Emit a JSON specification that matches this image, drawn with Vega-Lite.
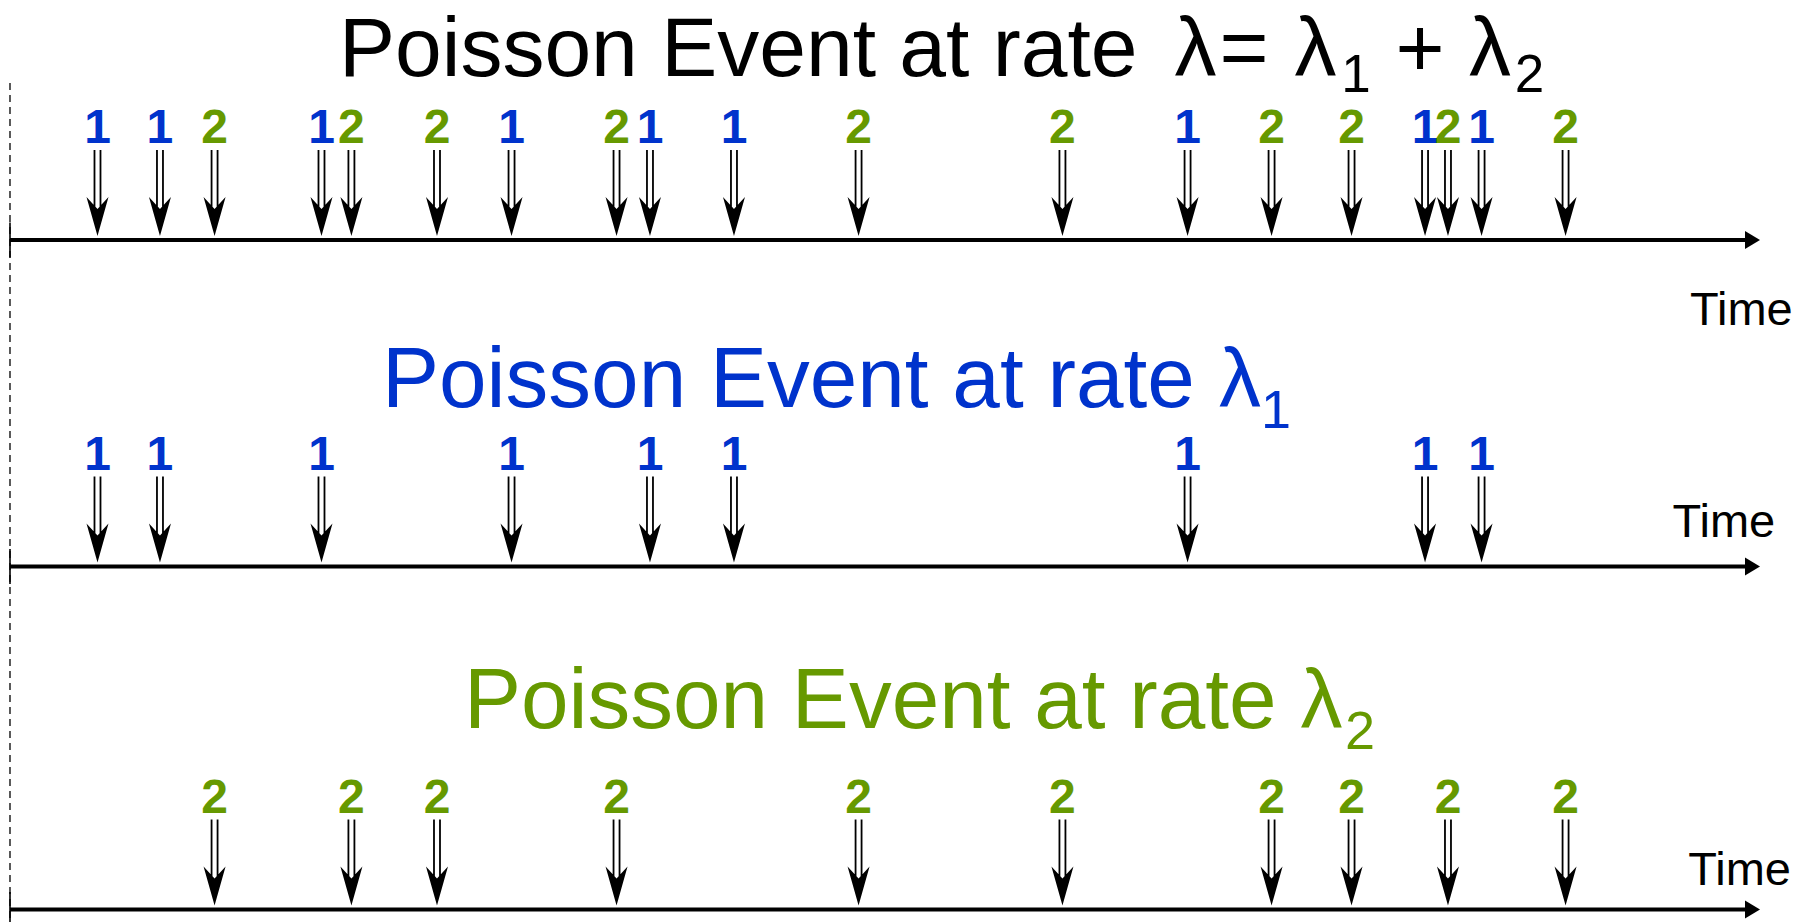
{
  "$schema": "https://vega.github.io/schema/vega-lite/v6.json",
  "width": 1808,
  "height": 922,
  "autosize": {"type": "none"},
  "padding": 0,
  "background": "white",
  "config": {"view": {"stroke": null}, "text": {"font": "Liberation Sans"}},
  "datasets": {
    "events": [
      {"process": 1, "t": 0.5},
      {"process": 1, "t": 0.857},
      {"process": 1, "t": 1.78},
      {"process": 1, "t": 2.866},
      {"process": 1, "t": 3.657},
      {"process": 1, "t": 4.137},
      {"process": 1, "t": 6.729},
      {"process": 1, "t": 8.086},
      {"process": 1, "t": 8.409},
      {"process": 2, "t": 1.169},
      {"process": 2, "t": 1.951},
      {"process": 2, "t": 2.44},
      {"process": 2, "t": 3.466},
      {"process": 2, "t": 4.849},
      {"process": 2, "t": 6.014},
      {"process": 2, "t": 7.209},
      {"process": 2, "t": 7.666},
      {"process": 2, "t": 8.217},
      {"process": 2, "t": 8.889}
    ],
    "timelines": [
      {"timeline": 0, "name": "merged"},
      {"timeline": 1, "name": "process 1"},
      {"timeline": 2, "name": "process 2"}
    ]
  },
  "layer": [
    {
      "data": {"name": "timelines"},
      "transform": [{"filter": "datum.timeline == 0"}],
      "mark": {"type": "rule", "strokeDash": [7, 5], "strokeWidth": 1.3, "color": "black", "yOffset": -157, "y2Offset": 12.5},
      "encoding": {
        "x": {"datum": 0, "type": "quantitative", "scale": {"domain": [-0.0571, 10.2743], "nice": false, "zero": false}, "axis": null},
        "y": {"datum": 0, "type": "quantitative", "scale": {"domain": [0, 1, 2], "range": [240, 566.5, 909.5], "nice": false, "zero": false}, "axis": null},
        "y2": {"datum": 2}
      }
    },
    {
      "data": {"name": "timelines"},
      "mark": {"type": "rule", "strokeWidth": 4, "color": "black"},
      "encoding": {
        "x": {"datum": 0, "type": "quantitative", "axis": null},
        "x2": {"datum": 9.93},
        "y": {"field": "timeline", "type": "quantitative", "axis": null}
      }
    },
    {
      "data": {"name": "timelines"},
      "mark": {"type": "rule", "strokeWidth": 1.6, "color": "black", "yOffset": -17.5, "y2Offset": 17.5},
      "encoding": {
        "x": {"datum": 0, "type": "quantitative", "axis": null},
        "y": {"field": "timeline", "type": "quantitative", "axis": null},
        "y2": {"field": "timeline"}
      }
    },
    {
      "data": {"name": "timelines"},
      "mark": {"type": "point", "shape": "M0,0L-15,-9L-15,9Z", "size": 4, "filled": true, "color": "black", "opacity": 1, "strokeWidth": 0},
      "encoding": {
        "x": {"datum": 10, "type": "quantitative", "axis": null},
        "y": {"field": "timeline", "type": "quantitative", "axis": null}
      }
    },
    {
      "data": {"name": "events"},
      "mark": {"type": "point", "shape": "M0,0L-11,-39L0,-27L11,-39Z M-3.9,-86L-2.1,-86L-2.1,-28L-3.9,-28Z M2.1,-86L3.9,-86L3.9,-28L2.1,-28Z", "size": 4, "filled": true, "color": "black", "opacity": 1, "strokeWidth": 0, "yOffset": -4},
      "encoding": {
        "x": {"field": "t", "type": "quantitative", "axis": null},
        "y": {"datum": 0, "type": "quantitative", "axis": null}
      }
    },
    {
      "data": {"name": "events"},
      "mark": {"type": "point", "shape": "M0,0L-11,-39L0,-27L11,-39Z M-3.9,-86L-2.1,-86L-2.1,-28L-3.9,-28Z M2.1,-86L3.9,-86L3.9,-28L2.1,-28Z", "size": 4, "filled": true, "color": "black", "opacity": 1, "strokeWidth": 0, "yOffset": -4},
      "encoding": {
        "x": {"field": "t", "type": "quantitative", "axis": null},
        "y": {"field": "process", "type": "quantitative", "axis": null}
      }
    },
    {
      "data": {"name": "events"},
      "mark": {"type": "text", "fontSize": 48, "fontWeight": "bold", "align": "center", "baseline": "alphabetic", "dy": -97},
      "encoding": {
        "x": {"field": "t", "type": "quantitative", "axis": null},
        "y": {"datum": 0, "type": "quantitative", "axis": null},
        "text": {"field": "process"},
        "color": {"field": "process", "type": "nominal", "scale": {"domain": [1, 2], "range": ["#0033cc", "#669900"]}, "legend": null}
      }
    },
    {
      "data": {"name": "events"},
      "mark": {"type": "text", "fontSize": 48, "fontWeight": "bold", "align": "center", "baseline": "alphabetic", "dy": -97},
      "encoding": {
        "x": {"field": "t", "type": "quantitative", "axis": null},
        "y": {"field": "process", "type": "quantitative", "axis": null},
        "text": {"field": "process"},
        "color": {"field": "process", "type": "nominal", "legend": null}
      }
    },
    {
      "data": {"name": "timelines"},
      "transform": [{"filter": "datum.timeline == 0"}],
      "mark": {"type": "text", "text": "Time", "fontSize": 47, "align": "left", "baseline": "alphabetic", "color": "black", "dy": 85},
      "encoding": {"x": {"datum": 9.6, "type": "quantitative", "axis": null}, "y": {"field": "timeline", "type": "quantitative", "axis": null}}
    },
    {
      "data": {"name": "timelines"},
      "transform": [{"filter": "datum.timeline == 1"}],
      "mark": {"type": "text", "text": "Time", "fontSize": 47, "align": "left", "baseline": "alphabetic", "color": "black", "dy": -29.5},
      "encoding": {"x": {"datum": 9.5, "type": "quantitative", "axis": null}, "y": {"field": "timeline", "type": "quantitative", "axis": null}}
    },
    {
      "data": {"name": "timelines"},
      "transform": [{"filter": "datum.timeline == 2"}],
      "mark": {"type": "text", "text": "Time", "fontSize": 47, "align": "left", "baseline": "alphabetic", "color": "black", "dy": -24.5},
      "encoding": {"x": {"datum": 9.59, "type": "quantitative", "axis": null}, "y": {"field": "timeline", "type": "quantitative", "axis": null}}
    },
    {
      "data": {"name": "timelines"},
      "transform": [{"filter": "datum.timeline == 0"}],
      "mark": {"type": "text", "text": "Poisson Event at rate", "fontSize": 84, "align": "left", "baseline": "alphabetic", "color": "black", "dy": -164},
      "encoding": {"x": {"datum": 1.88, "type": "quantitative", "axis": null}, "y": {"field": "timeline", "type": "quantitative", "axis": null}}
    },
    {
      "data": {"name": "timelines"},
      "transform": [{"filter": "datum.timeline == 0"}],
      "mark": {"type": "text", "text": "λ", "fontSize": 84, "align": "center", "baseline": "alphabetic", "color": "black", "dy": -164},
      "encoding": {"x": {"datum": 6.774, "type": "quantitative", "axis": null}, "y": {"field": "timeline", "type": "quantitative", "axis": null}}
    },
    {
      "data": {"name": "timelines"},
      "transform": [{"filter": "datum.timeline == 0"}],
      "mark": {"type": "text", "text": "=", "fontSize": 84, "align": "center", "baseline": "alphabetic", "color": "black", "dy": -164},
      "encoding": {"x": {"datum": 7.051, "type": "quantitative", "axis": null}, "y": {"field": "timeline", "type": "quantitative", "axis": null}}
    },
    {
      "data": {"name": "timelines"},
      "transform": [{"filter": "datum.timeline == 0"}],
      "mark": {"type": "text", "text": "λ", "fontSize": 84, "align": "center", "baseline": "alphabetic", "color": "black", "dy": -164},
      "encoding": {"x": {"datum": 7.46, "type": "quantitative", "axis": null}, "y": {"field": "timeline", "type": "quantitative", "axis": null}}
    },
    {
      "data": {"name": "timelines"},
      "transform": [{"filter": "datum.timeline == 0"}],
      "mark": {"type": "text", "text": "1", "fontSize": 53, "align": "center", "baseline": "alphabetic", "color": "black", "dy": -148},
      "encoding": {"x": {"datum": 7.691, "type": "quantitative", "axis": null}, "y": {"field": "timeline", "type": "quantitative", "axis": null}}
    },
    {
      "data": {"name": "timelines"},
      "transform": [{"filter": "datum.timeline == 0"}],
      "mark": {"type": "text", "text": "+", "fontSize": 84, "align": "center", "baseline": "alphabetic", "color": "black", "dy": -164},
      "encoding": {"x": {"datum": 8.057, "type": "quantitative", "axis": null}, "y": {"field": "timeline", "type": "quantitative", "axis": null}}
    },
    {
      "data": {"name": "timelines"},
      "transform": [{"filter": "datum.timeline == 0"}],
      "mark": {"type": "text", "text": "λ", "fontSize": 84, "align": "center", "baseline": "alphabetic", "color": "black", "dy": -164},
      "encoding": {"x": {"datum": 8.457, "type": "quantitative", "axis": null}, "y": {"field": "timeline", "type": "quantitative", "axis": null}}
    },
    {
      "data": {"name": "timelines"},
      "transform": [{"filter": "datum.timeline == 0"}],
      "mark": {"type": "text", "text": "2", "fontSize": 53, "align": "center", "baseline": "alphabetic", "color": "black", "dy": -148},
      "encoding": {"x": {"datum": 8.683, "type": "quantitative", "axis": null}, "y": {"field": "timeline", "type": "quantitative", "axis": null}}
    },
    {
      "data": {"name": "timelines"},
      "transform": [{"filter": "datum.timeline == 1"}],
      "mark": {"type": "text", "text": "Poisson Event at rate", "fontSize": 85.5, "align": "left", "baseline": "alphabetic", "color": "#0033cc", "dy": -159.5},
      "encoding": {"x": {"datum": 2.126, "type": "quantitative", "axis": null}, "y": {"field": "timeline", "type": "quantitative", "axis": null}}
    },
    {
      "data": {"name": "timelines"},
      "transform": [{"filter": "datum.timeline == 1"}],
      "mark": {"type": "text", "text": "λ", "fontSize": 84, "align": "center", "baseline": "alphabetic", "color": "#0033cc", "dy": -159.5},
      "encoding": {"x": {"datum": 7.029, "type": "quantitative", "axis": null}, "y": {"field": "timeline", "type": "quantitative", "axis": null}}
    },
    {
      "data": {"name": "timelines"},
      "transform": [{"filter": "datum.timeline == 1"}],
      "mark": {"type": "text", "text": "1", "fontSize": 54, "align": "center", "baseline": "alphabetic", "color": "#0033cc", "dy": -138.5},
      "encoding": {"x": {"datum": 7.234, "type": "quantitative", "axis": null}, "y": {"field": "timeline", "type": "quantitative", "axis": null}}
    },
    {
      "data": {"name": "timelines"},
      "transform": [{"filter": "datum.timeline == 2"}],
      "mark": {"type": "text", "text": "Poisson Event at rate", "fontSize": 85.5, "align": "left", "baseline": "alphabetic", "color": "#669900", "dy": -181.5},
      "encoding": {"x": {"datum": 2.594, "type": "quantitative", "axis": null}, "y": {"field": "timeline", "type": "quantitative", "axis": null}}
    },
    {
      "data": {"name": "timelines"},
      "transform": [{"filter": "datum.timeline == 2"}],
      "mark": {"type": "text", "text": "λ", "fontSize": 84, "align": "center", "baseline": "alphabetic", "color": "#669900", "dy": -181.5},
      "encoding": {"x": {"datum": 7.494, "type": "quantitative", "axis": null}, "y": {"field": "timeline", "type": "quantitative", "axis": null}}
    },
    {
      "data": {"name": "timelines"},
      "transform": [{"filter": "datum.timeline == 2"}],
      "mark": {"type": "text", "text": "2", "fontSize": 54, "align": "center", "baseline": "alphabetic", "color": "#669900", "dy": -160.5},
      "encoding": {"x": {"datum": 7.714, "type": "quantitative", "axis": null}, "y": {"field": "timeline", "type": "quantitative", "axis": null}}
    }
  ]
}
